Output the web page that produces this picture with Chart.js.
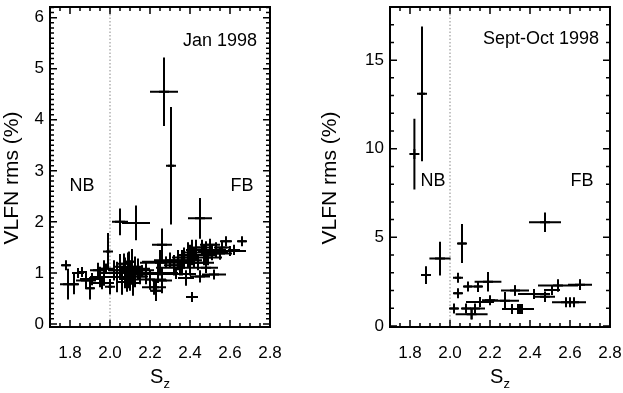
<!DOCTYPE html>
<html>
<head>
<meta charset="utf-8">
<script src="https://cdn.jsdelivr.net/npm/chart.js@4.4.0/dist/chart.umd.min.js"></script>
<style>
  html, body { margin: 0; padding: 0; background: #fff; }
  #wrap { position: relative; width: 623px; height: 393px; }
  .panel { position: absolute; top: 0; height: 393px; }
  #p1 { left: 0; width: 311px; }
  #p2 { left: 311px; width: 312px; }
</style>
</head>
<body>
<div id="wrap">
  <div class="panel" id="p1"><canvas id="janChart"></canvas></div>
  <div class="panel" id="p2"><canvas id="sepChart"></canvas></div>
</div>
<script>
// Jan 1998: spectral index Sz vs VLFN rms, with errors on both
const szJan = [1.78, 1.79, 1.82, 1.84, 1.86, 1.88, 1.90, 1.91, 1.94, 1.95, 1.96, 1.97, 1.99, 2.00, 1.98,
  2.05, 2.13, 2.27, 2.305, 2.26, 2.45, 2.41,
  2.02, 2.035, 2.05, 2.06, 2.075, 2.07, 2.085, 2.09, 2.10, 2.11, 2.115, 2.125, 2.14, 2.15, 2.095, 2.06,
  2.16, 2.18, 2.20, 2.22, 2.23, 2.24, 2.25, 2.26, 2.28, 2.30, 2.32, 2.33, 2.34, 2.36, 2.37, 2.38,
  2.39, 2.40, 2.41, 2.42, 2.43, 2.44, 2.45, 2.46, 2.47, 2.48, 2.49, 2.50, 2.51, 2.52, 2.53, 2.55,
  2.56, 2.58, 2.60, 2.62, 2.66, 2.48, 2.35];
const rmsJan = [1.15, 0.78, 0.78, 1.00, 1.02, 0.85, 0.70, 0.88, 1.05, 0.92, 0.80, 1.00, 1.42, 0.73, 1.08,
  2.00, 1.98, 4.55, 3.10, 1.55, 2.07, 0.53,
  1.05, 0.92, 1.12, 0.82, 1.00, 1.18, 0.88, 1.05, 0.95, 1.12, 0.80, 1.02, 1.08, 0.93, 1.22, 1.00,
  1.05, 0.98, 0.87, 0.72, 0.65, 1.00, 1.20, 0.85, 1.22, 1.25, 1.15, 0.98, 1.25, 1.20, 1.30, 0.90,
  1.35, 1.25, 1.40, 1.30, 1.45, 1.20, 0.93, 1.50, 1.35, 1.42, 1.30, 1.55, 1.40, 0.97, 1.45, 1.38,
  1.50, 1.62, 1.43, 1.45, 1.62, 1.10, 1.10];
const szErrJan = [0.02, 0.04, 0.02, 0.03, 0.02, 0.05, 0.02, 0.06, 0.04, 0.05, 0.06, 0.03, 0.01, 0.01, 0.04,
  0.04, 0.07, 0.07, 0.015, 0.05, 0.06, 0.03,
  0.03, 0.04, 0.02, 0.03, 0.05, 0.03, 0.04, 0.02, 0.03, 0.05, 0.03, 0.04, 0.06, 0.04, 0.03, 0.08,
  0.06, 0.05, 0.08, 0.06, 0.03, 0.10, 0.10, 0.05, 0.12, 0.08, 0.05, 0.10, 0.04, 0.05, 0.06, 0.04,
  0.05, 0.06, 0.04, 0.07, 0.05, 0.08, 0.05, 0.05, 0.06, 0.04, 0.07, 0.05, 0.08, 0.06, 0.05, 0.06,
  0.04, 0.03, 0.08, 0.03, 0.02, 0.06, 0.12];
const rmsErrJan = [0.06, 0.30, 0.20, 0.08, 0.05, 0.15, 0.22, 0.12, 0.15, 0.20, 0.12, 0.25, 0.36, 0.15, 0.10,
  0.26, 0.34, 0.67, 1.15, 0.32, 0.40, 0.05,
  0.20, 0.30, 0.25, 0.25, 0.30, 0.20, 0.25, 0.35, 0.30, 0.35, 0.25, 0.30, 0.20, 0.15, 0.20, 0.10,
  0.10, 0.20, 0.20, 0.15, 0.20, 0.20, 0.25, 0.25, 0.10, 0.15, 0.20, 0.10, 0.20, 0.25, 0.20, 0.15,
  0.25, 0.30, 0.25, 0.20, 0.20, 0.15, 0.12, 0.15, 0.20, 0.20, 0.15, 0.12, 0.15, 0.05, 0.15, 0.12,
  0.12, 0.08, 0.05, 0.10, 0.07, 0.10, 0.15];

// Sept-Oct 1998
const szSep = [1.822, 1.86, 1.88, 1.95, 2.06, 2.475, 2.04, 2.04, 2.02, 2.09, 2.14, 2.19, 2.125, 2.108,
  2.08, 2.15, 2.20, 2.275, 2.325, 2.34, 2.31, 2.35, 2.36, 2.42, 2.475, 2.51, 2.54, 2.65, 2.58, 2.60, 2.62];
const rmsSep = [9.7, 13.1, 2.87, 3.8, 4.65, 5.85, 2.72, 1.85, 0.98, 2.22, 2.22, 2.5, 0.98, 0.66,
  0.98, 1.35, 1.45, 1.42, 2.0, 0.95, 0.95, 0.95, 0.95, 1.8, 1.65, 2.03, 2.28, 2.33, 1.33, 1.33, 1.33];
const szErrSep = [0.015, 0.015, 0.02, 0.053, 0.02, 0.08, 0.015, 0.02, 0.02, 0.02, 0.02, 0.067, 0.05, 0.08,
  0.02, 0.07, 0.04, 0.07, 0.07, 0.08, 0.03, 0.02, 0.03, 0.08, 0.05, 0.04, 0.1, 0.06, 0.07, 0.03, 0.06];
const rmsErrSep = [2.0, 3.8, 0.5, 0.95, 1.1, 0.55, 0.15, 0.2, 0.2, 0.15, 0.3, 0.55, 0.2, 0.3,
  0.2, 0.2, 0.2, 0.5, 0.3, 0.2, 0.2, 0.2, 0.15, 0.15, 0.3, 0.25, 0.35, 0.3, 0.1, 0.15, 0.15];

const szTicks = [1.8, 2.0, 2.2, 2.4, 2.6, 2.8];
const rmsTicksJan = [0, 1, 2, 3, 4, 5, 6];
const rmsTicksSep = [0, 5, 10, 15];
const boundarySz = 2.0;

const FONT = '"Liberation Sans", Arial, Helvetica, sans-serif';

function toPoints(xs, ys) {
  return xs.map((v, i) => ({ x: v, y: ys[i] }));
}

// IDL-style box: frame, inward ticks on all sides, error bars, labels
const idlPlot = {
  id: 'idlPlot',
  afterDatasetsDraw(chart) {
    const { ctx, scales: { x, y } } = chart;
    const ds = chart.data.datasets[0];
    ctx.save();
    ctx.strokeStyle = '#000';
    ctx.lineWidth = 2;
    ctx.beginPath();
    ds.data.forEach((p, i) => {
      const px = x.getPixelForValue(p.x), py = y.getPixelForValue(p.y);
      ctx.moveTo(x.getPixelForValue(p.x - ds.xErr[i]), py);
      ctx.lineTo(x.getPixelForValue(p.x + ds.xErr[i]), py);
      ctx.moveTo(px, y.getPixelForValue(p.y - ds.yErr[i]));
      ctx.lineTo(px, y.getPixelForValue(p.y + ds.yErr[i]));
    });
    ctx.stroke();
    ctx.restore();
  },
  afterDraw(chart, args, opts) {
    const { ctx, chartArea: a, scales: { x, y } } = chart;
    ctx.save();
    ctx.strokeStyle = '#000';
    ctx.lineWidth = 2;
    ctx.strokeRect(a.left, a.top, a.right - a.left, a.bottom - a.top);

    ctx.lineWidth = 1.5;
    ctx.beginPath();
    // x ticks (bottom and top)
    for (let k = 0; ; k++) {
      const v = 1.7 + k * opts.xMinor;
      if (v > x.max + 1e-9) break;
      const major = Math.abs(v / 0.2 - Math.round(v / 0.2)) < 1e-6;
      const len = major ? 7 : 4;
      const px = x.getPixelForValue(v);
      ctx.moveTo(px, a.bottom); ctx.lineTo(px, a.bottom - len);
      ctx.moveTo(px, a.top); ctx.lineTo(px, a.top + len);
    }
    // y ticks (left and right)
    for (let k = 0; ; k++) {
      const v = k * opts.yMinor;
      if (v > y.max + 1e-9) break;
      const major = Math.abs(v / opts.yMajor - Math.round(v / opts.yMajor)) < 1e-6;
      const len = major ? 7 : 4;
      const py = y.getPixelForValue(v);
      ctx.moveTo(a.left, py); ctx.lineTo(a.left + len, py);
      ctx.moveTo(a.right, py); ctx.lineTo(a.right - len, py);
    }
    ctx.stroke();

    // in-plot labels
    ctx.fillStyle = '#000';
    ctx.font = '18px ' + FONT;
    ctx.textAlign = 'center';
    ctx.textBaseline = 'middle';
    opts.notes.forEach(n => {
      ctx.fillText(n.text, x.getPixelForValue(n.x), y.getPixelForValue(n.y));
    });

    // x title: S with subscript z
    const cx = (a.left + a.right) / 2;
    ctx.textBaseline = 'alphabetic';
    ctx.textAlign = 'left';
    ctx.font = '20px ' + FONT;
    const wS = ctx.measureText('S').width;
    ctx.font = '13px ' + FONT;
    const wz = ctx.measureText('z').width;
    const x0 = cx - (wS + wz) / 2;
    ctx.font = '20px ' + FONT;
    ctx.fillText('S', x0, 383);
    ctx.font = '13px ' + FONT;
    ctx.fillText('z', x0 + wS, 388);

    // y title
    ctx.translate(a.left - opts.yTitleOffset, 178);
    ctx.rotate(-Math.PI / 2);
    ctx.textAlign = 'center';
    ctx.textBaseline = 'middle';
    ctx.font = '21px ' + FONT;
    ctx.fillText('VLFN rms (%)', 0, 0);
    ctx.restore();
  }
};

function makeChart(id, xs, ys, xErr, yErr, yMin, yMax, yTicks, yAxisWidth, padRight, extra) {
  return new Chart(document.getElementById(id), {
    type: 'scatter',
    data: {
      datasets: [{
        data: toPoints(xs, ys),
        xErr: xErr,
        yErr: yErr,
        pointStyle: 'cross',
        pointRadius: 5,
        borderColor: '#000',
        backgroundColor: '#000',
        borderWidth: 2
      }, {
        type: 'line',
        data: [{ x: boundarySz, y: yMin }, { x: boundarySz, y: yMax }],
        borderColor: '#888',
        borderWidth: 1,
        borderDash: [1.5, 2],
        pointRadius: 0
      }]
    },
    options: {
      responsive: true,
      maintainAspectRatio: false,
      animation: false,
      layout: { padding: { top: 1, right: padRight, left: 0, bottom: 0 } },
      plugins: {
        legend: { display: false },
        tooltip: { enabled: false },
        idlPlot: extra
      },
      scales: {
        x: {
          type: 'linear',
          min: 1.7,
          max: 2.8,
          grid: { display: false, drawTicks: false },
          border: { display: false },
          ticks: {
            color: '#000',
            font: { family: FONT, size: 17 },
            padding: 16,
            maxRotation: 0,
            autoSkip: false,
            callback: v => v.toFixed(1)
          },
          afterBuildTicks: s => { s.ticks = szTicks.map(v => ({ value: v })); },
          afterFit: s => { s.height = 66; s.paddingLeft = 0; s.paddingRight = 0; }
        },
        y: {
          type: 'linear',
          min: yMin,
          max: yMax,
          grid: { display: false, drawTicks: false },
          border: { display: false },
          ticks: {
            color: '#000',
            font: { family: FONT, size: 17 },
            padding: 6,
            callback: v => String(v)
          },
          afterBuildTicks: s => { s.ticks = yTicks.map(v => ({ value: v })); },
          afterFit: s => { s.width = yAxisWidth; s.paddingTop = 0; s.paddingBottom = 0; }
        }
      }
    },
    plugins: [idlPlot]
  });
}

makeChart('janChart', szJan, rmsJan, szErrJan, rmsErrJan, -0.06, 6.21, rmsTicksJan, 50, 41, {
  xMinor: 0.05, yMinor: 0.1, yMajor: 1, yTitleOffset: 38,
  notes: [
    { text: 'Jan 1998', x: 2.55, y: 5.55 },
    { text: 'NB', x: 1.86, y: 2.70 },
    { text: 'FB', x: 2.66, y: 2.70 }
  ]
});

makeChart('sepChart', szSep, rmsSep, szErrSep, rmsErrSep, -0.06, 18.0, rmsTicksSep, 79, 13, {
  xMinor: 0.05, yMinor: 1, yMajor: 5, yTitleOffset: 60,
  notes: [
    { text: 'Sept-Oct 1998', x: 2.455, y: 16.2 },
    { text: 'NB', x: 1.915, y: 8.2 },
    { text: 'FB', x: 2.66, y: 8.2 }
  ]
});
</script>
</body>
</html>
